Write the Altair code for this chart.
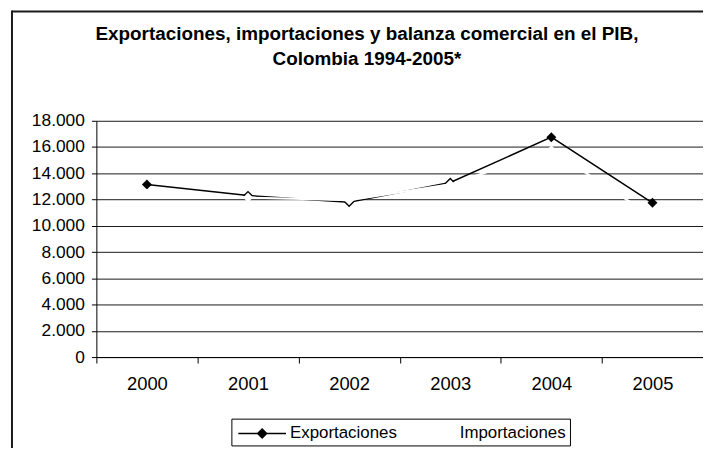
import altair as alt
import pandas as pd

years = ["2000", "2001", "2002", "2003", "2004", "2005"]
exportaciones = [13150, 12300, 11800, 13300, 16750, 11750]
importaciones = [12450, 12150, 11950, 13150, 15750, 10700]
series = ["Exportaciones", "Importaciones"]
series_colors = ["#000000", "#ffffff"]
y_ticks = [0, 2000, 4000, 6000, 8000, 10000, 12000, 14000, 16000, 18000]
title_lines = ["Exportaciones, importaciones y balanza comercial en el PIB,",
               "Colombia 1994-2005*"]

df = pd.DataFrame({
    "anio": years * 2,
    "valor": exportaciones + importaciones,
    "serie": [series[0]] * len(years) + [series[1]] * len(years),
})

FONT = "Liberation Sans"
W, H = 611, 238

x_enc = alt.X(
    "anio:O", sort=years, bandPosition=0.5,
    scale=alt.Scale(type="band", paddingInner=0, paddingOuter=0),
    axis=alt.Axis(title=None, labelAngle=0, tickBand="extent", grid=False,
                  domainColor="#000000", tickColor="#000000", tickSize=6,
                  labelFont=FONT, labelFontSize=18.5, labelColor="#000000",
                  labelPadding=12),
)
y_enc = alt.Y(
    "valor:Q", scale=alt.Scale(domain=[0, 18000], nice=False, zero=True),
    axis=alt.Axis(title=None, values=y_ticks, grid=True, gridColor="#1a1a1a",
                  gridWidth=1, domainColor="#000000", tickColor="#000000",
                  tickSize=5, labelFont=FONT, labelFontSize=17.5,
                  labelColor="#000000", labelPadding=7,
                  labelExpr="replace(format(datum.value, ','), ',', '.')"),
)
legend_symbol = ("M-2.4,0L2.4,0"
                 "M0,-0.45L0.45,0L0,0.45L-0.45,0Z"
                 "M0,-0.3L0.3,0L0,0.3L-0.3,0Z"
                 "M0,-0.15L0.15,0L0,0.15L-0.15,0Z")
legend = alt.Legend(
    title=None, orient="none", legendX=136, legendY=300, direction="horizontal",
    symbolType=legend_symbol, symbolSize=400, symbolStrokeWidth=1.5,
    symbolOffset=16, labelOffset=17,
    labelFont=FONT, labelFontSize=17, labelColor="#000000",
    columnPadding=8, padding=4, strokeColor="#000000",
)
color_enc = alt.Color("serie:N", scale=alt.Scale(domain=series, range=series_colors),
                      legend=legend)

base = alt.Chart(df).encode(x=x_enc, y=y_enc, color=color_enc)

layers = []
for s, sw in zip(series, [1.5, 2.2]):
    sub = base.transform_filter(alt.datum.serie == s)
    layers.append(sub.mark_line(strokeWidth=sw))
    layers.append(sub.mark_point(shape="diamond", filled=True, size=100, opacity=1))

# outer chart-area border (only its top and left edges fall inside the view)
one = pd.DataFrame({"k": [0]})
frame_top = alt.Chart(one).mark_rule(color="#1a1a1a", strokeWidth=2).encode(
    x=alt.value(-85), x2=alt.value(700), y=alt.value(-110))
frame_left = alt.Chart(one).mark_rule(color="#1a1a1a", strokeWidth=2).encode(
    x=alt.value(-85), y=alt.value(-111), y2=alt.value(400))

chart = alt.layer(frame_top, frame_left, *layers).properties(
    width=W, height=H,
    title=alt.Title(text=title_lines, font=FONT, fontSize=19, fontWeight="bold",
                    color="#000000", anchor="middle", lineHeight=25, offset=-60,
                    dx=-33),
    autosize=alt.AutoSizeParams(type="none"),
    padding={"left": 89, "top": 112, "right": 0, "bottom": 90},
).configure_view(stroke=None)

chart.save("out.html", embed_options={"renderer": "svg", "actions": False})
